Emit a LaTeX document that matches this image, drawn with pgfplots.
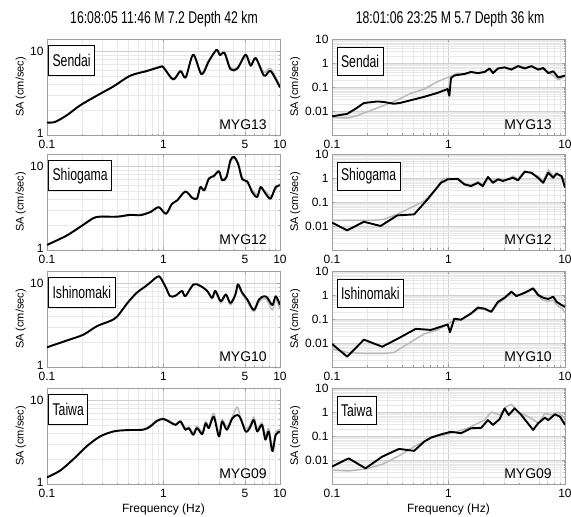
\documentclass[border=0pt]{standalone}
\usepackage{pgfplots}
\pgfplotsset{compat=1.18}
\usepackage{fontspec}
\setmainfont{Liberation Sans}
\newfontfamily\narrowfont[FakeStretch=0.72]{Liberation Sans}
\pgfplotsset{every axis/.append style={
  scale only axis, width=233pt, height=96pt,
  xmin=0.1, xmax=10, anchor=north west,
  axis line style={gray!75, line width=0.6pt},
  grid=both,
  major grid style={gray!38, line width=0.4pt},
  minor grid style={gray!18, line width=0.3pt},
  tick style={gray!75}, major tick length=3pt, minor tick length=1.5pt,
  tick align=inside,
  tick label style={font=\fontsize{12}{12}\selectfont},
  xticklabel style={yshift=-1.5pt},
  minor xtick={0.2,0.3,0.4,0.5,0.6,0.7,0.8,0.9,2,3,4,6,7,8,9},
  ylabel={SA (cm/sec)},
  y label style={anchor=center, font=\fontsize{11}{11}\selectfont},
  x label style={font=\fontsize{12}{12}\selectfont, yshift=1pt},
 }}
\tikzset{
 blk/.style={black, line width=1.9pt, line join=round},
 gry/.style={gray!55, line width=1.5pt, line join=round},
}
\newcommand{\station}[1]{\node[draw=black, line width=0.8pt, fill=white, anchor=north west, inner xsep=4pt, minimum height=30pt, font=\narrowfont\fontsize{17}{17}\selectfont] at (axis description cs:0.005,0.935) {#1};}
\newcommand{\stationR}[1]{\node[draw=black, line width=0.8pt, fill=white, anchor=north west, inner xsep=4pt, minimum height=28pt, font=\narrowfont\fontsize{17}{17}\selectfont] at (axis description cs:0.02,0.92) {#1};}
\newcommand{\code}[1]{\node[anchor=south east, font=\fontsize{14}{14}\selectfont, inner sep=0pt] at (axis description cs:0.944,0.055) {#1};}
\begin{document}
\begin{tikzpicture}
\path[use as bounding box] (0pt,0pt) rectangle (571pt,517pt);
\node[font=\narrowfont\fontsize{17}{17}\selectfont] at (164pt,498pt) {16:08:05 11:46 M 7.2 Depth 42 km};
\node[font=\narrowfont\fontsize{17}{17}\selectfont] at (450pt,498pt) {18:01:06 23:25 M 5.7 Depth 36 km};

% ---------- Row 1 left: Sendai
\begin{loglogaxis}[at={(47pt,478pt)},
  xtick={0.1,1,10}, xticklabels={0.1,1,10},
  extra x ticks={5}, extra x tick labels={5}, extra x tick style={grid=major},
  ymin=1, ymax=14, ytick={1,10}, yticklabels={\raisebox{3pt}{1},10},
  minor ytick={2,3,4,5,6,7,8,9},
  y label style={at={(axis description cs:-0.112,0.5)}}]
\addplot[gry, smooth, tension=0.5] coordinates {(0.1,1.42)(0.117,1.44)(0.148,1.74)(0.192,2.28)(0.268,2.98)(0.372,3.85)(0.518,5.15)(0.72,5.9)(0.94,6.6)(1.0,6.5)(1.21,4.7)(1.40,5.9)(1.55,4.9)(1.80,9.0)(2.12,5.5)(2.45,7.8)(2.85,10.0)(3.05,9.2)(3.34,9.8)(3.76,6.4)(4.3,6.4)(5.07,8.6)(5.6,7.2)(6.2,8.0)(7.3,5.6)(8.3,6.2)(10,3.9)};
\addplot[blk, smooth, tension=0.5] coordinates {(0.1,1.41)(0.117,1.43)(0.148,1.72)(0.192,2.25)(0.268,2.95)(0.372,3.8)(0.518,5.1)(0.72,5.8)(0.94,6.5)(1.0,6.4)(1.21,4.6)(1.40,5.8)(1.55,4.85)(1.80,9.1)(2.12,5.3)(2.45,7.6)(2.85,10.4)(3.05,9.0)(3.34,9.5)(3.76,6.1)(4.3,6.2)(5.07,9.1)(5.6,6.7)(6.2,8.3)(7.3,5.1)(8.3,5.8)(10,3.7)};
\station{Sendai}
\code{MYG13}
\end{loglogaxis}

% ---------- Row 1 right: Sendai
\begin{loglogaxis}[at={(332pt,478pt)},
  xtick={0.1,1,10}, xticklabels={0.1,1,10},
  ymin=0.001, ymax=10, ytick={0.001,0.01,0.1,1,10}, yticklabels={,0.01,0.1,1,10},
  minor ytick={0.002,0.003,0.004,0.005,0.006,0.007,0.008,0.009,0.02,0.03,0.04,0.05,0.06,0.07,0.08,0.09,0.2,0.3,0.4,0.5,0.6,0.7,0.8,0.9,2,3,4,5,6,7,8,9},
  y label style={at={(axis description cs:-0.158,0.5)}}]
\addplot[gry] coordinates {(0.1,0.0055)(0.135,0.0051)(0.164,0.0064)(0.214,0.0105)(0.279,0.017)(0.36,0.028)(0.474,0.054)(0.618,0.082)(0.806,0.168)(0.984,0.25)(1.2,0.38)(1.37,0.33)(1.56,0.45)(1.79,0.36)(2.04,0.45)(2.25,0.55)(2.41,0.42)(2.66,0.62)(3.03,0.6)(3.47,0.6)(3.95,0.8)(4.51,0.65)(5.15,0.7)(5.89,0.6)(6.5,0.55)(7.18,0.42)(7.93,0.3)(8.76,0.2)(10,0.28)};
\addplot[blk] coordinates {(0.1,0.006)(0.135,0.0076)(0.159,0.0123)(0.188,0.0215)(0.245,0.025)(0.279,0.0237)(0.341,0.02)(0.389,0.022)(0.474,0.028)(0.618,0.039)(0.806,0.057)(0.984,0.082)(1.017,0.043)(1.05,0.234)(1.12,0.30)(1.37,0.35)(1.56,0.42)(1.79,0.38)(2.04,0.42)(2.25,0.59)(2.41,0.38)(2.66,0.59)(3.03,0.66)(3.47,0.53)(3.95,0.74)(4.51,0.59)(5.15,0.74)(5.89,0.53)(6.5,0.62)(7.18,0.38)(7.93,0.45)(8.76,0.25)(10,0.30)};
\stationR{Sendai}
\code{MYG13}
\end{loglogaxis}

% ---------- Row 2 left: Shiogama
\begin{loglogaxis}[at={(47pt,363pt)},
  xtick={0.1,1,10}, xticklabels={0.1,1,10},
  extra x ticks={5}, extra x tick labels={5}, extra x tick style={grid=major},
  ymin=1, ymax=14, ytick={1,10}, yticklabels={\raisebox{3pt}{1},10},
  minor ytick={2,3,4,5,6,7,8,9},
  y label style={at={(axis description cs:-0.112,0.5)}}]
\addplot[gry, smooth, tension=0.5] coordinates {(0.1,1.15)(0.148,1.5)(0.205,2.02)(0.25,2.42)(0.286,2.52)(0.4,2.48)(0.52,2.6)(0.63,2.65)(0.77,2.86)(0.91,3.2)(1.05,2.75)(1.18,3.5)(1.31,3.95)(1.54,4.9)(1.76,4.3)(1.94,4.2)(2.07,5.5)(2.24,5.3)(2.45,7.3)(2.7,7.4)(2.99,8.9)(3.19,7.0)(3.47,7.7)(3.76,11.3)(4.02,12.5)(4.36,11.2)(4.74,7.4)(5.24,6.3)(5.78,5.2)(6.38,4.6)(6.82,5.3)(7.53,5.0)(8.3,4.4)(9.18,5.3)(10,6.2)};
\addplot[blk, smooth, tension=0.5] coordinates {(0.1,1.15)(0.148,1.49)(0.205,2.0)(0.25,2.4)(0.286,2.5)(0.4,2.5)(0.52,2.63)(0.63,2.6)(0.77,2.83)(0.91,3.25)(1.05,2.7)(1.18,3.55)(1.31,3.9)(1.54,5.0)(1.76,4.2)(1.94,4.1)(2.07,5.65)(2.24,5.15)(2.45,7.1)(2.7,7.65)(2.99,8.7)(3.19,6.8)(3.47,7.4)(3.76,11.8)(4.02,12.9)(4.36,10.8)(4.74,7.0)(5.24,6.6)(5.78,4.9)(6.38,4.3)(6.82,5.65)(7.53,4.7)(8.3,4.1)(9.18,5.65)(10,5.9)};
\station{Shiogama}
\code{MYG12}
\end{loglogaxis}

% ---------- Row 2 right: Shiogama
\begin{loglogaxis}[at={(332pt,363pt)},
  xtick={0.1,1,10}, xticklabels={0.1,1,10},
  ymin=0.001, ymax=10, ytick={0.001,0.01,0.1,1,10}, yticklabels={,0.01,0.1,1,10},
  minor ytick={0.002,0.003,0.004,0.005,0.006,0.007,0.008,0.009,0.02,0.03,0.04,0.05,0.06,0.07,0.08,0.09,0.2,0.3,0.4,0.5,0.6,0.7,0.8,0.9,2,3,4,5,6,7,8,9},
  y label style={at={(axis description cs:-0.158,0.5)}}]
\addplot[gry] coordinates {(0.1,0.017)(0.145,0.017)(0.215,0.017)(0.279,0.019)(0.364,0.031)(0.474,0.058)(0.618,0.11)(0.755,0.29)(0.89,0.88)(0.984,1.0)(1.2,0.85)(1.37,0.6)(1.56,0.5)(1.79,0.7)(1.97,0.55)(2.18,1.0)(2.41,0.75)(2.66,0.95)(2.93,0.85)(3.24,0.9)(3.58,1.2)(3.95,0.9)(4.51,2.0)(5.15,1.5)(5.89,1.2)(6.5,0.75)(7.18,2.2)(7.93,1.2)(8.47,1.7)(9.36,1.0)(10,0.5)};
\addplot[blk] coordinates {(0.1,0.0138)(0.135,0.0066)(0.188,0.015)(0.261,0.01)(0.364,0.0277)(0.507,0.0305)(0.661,0.129)(0.861,0.63)(0.984,0.88)(1.2,0.93)(1.37,0.54)(1.56,0.46)(1.79,0.63)(1.97,0.46)(2.18,1.1)(2.41,0.63)(2.66,0.88)(2.93,0.75)(3.24,0.88)(3.58,1.03)(3.95,0.80)(4.51,1.82)(5.15,1.66)(5.89,1.0)(6.5,0.63)(7.18,1.66)(7.93,1.03)(8.47,1.5)(9.36,1.2)(10,0.4)};
\stationR{Shiogama}
\code{MYG12}
\end{loglogaxis}

% ---------- Row 3 left: Ishinomaki
\begin{loglogaxis}[at={(47pt,246pt)},
  xtick={0.1,1,10}, xticklabels={0.1,1,10},
  extra x ticks={5}, extra x tick labels={5}, extra x tick style={grid=major},
  ymin=1, ymax=14, ytick={1,10}, yticklabels={\raisebox{3pt}{1},10},
  minor ytick={2,3,4,5,6,7,8,9},
  y label style={at={(axis description cs:-0.112,0.5)}}]
\addplot[gry, smooth, tension=0.5] coordinates {(0.1,1.72)(0.148,2.07)(0.205,2.43)(0.268,3.07)(0.348,3.54)(0.4,4.0)(0.49,5.8)(0.59,7.7)(0.72,9.45)(0.88,11.9)(0.94,11.7)(1.05,8.85)(1.14,7.0)(1.27,7.2)(1.44,8.0)(1.54,7.1)(1.81,9.6)(2.07,9.2)(2.37,8.0)(2.61,6.5)(2.79,7.8)(3.1,5.8)(3.43,7.1)(3.76,5.5)(4.14,7.0)(4.36,9.2)(4.74,7.4)(5.24,6.0)(5.96,4.6)(6.6,6.0)(7.3,6.6)(7.8,6.2)(8.6,4.8)(9.2,6.4)(10,4.9)};
\addplot[blk, smooth, tension=0.5] coordinates {(0.1,1.72)(0.148,2.07)(0.205,2.43)(0.268,3.07)(0.348,3.54)(0.4,4.0)(0.49,5.8)(0.59,7.7)(0.72,9.45)(0.88,11.9)(0.94,11.7)(1.05,8.85)(1.14,7.0)(1.27,7.1)(1.44,8.1)(1.54,7.0)(1.81,9.7)(2.07,9.3)(2.37,8.1)(2.61,6.7)(2.79,8.1)(3.1,6.1)(3.43,7.35)(3.76,5.8)(4.14,7.35)(4.36,9.7)(4.74,7.7)(5.24,6.4)(5.96,4.8)(6.6,6.4)(7.3,7.0)(7.8,6.7)(8.6,5.5)(9.2,7.0)(10,5.5)};
\station{Ishinomaki}
\code{MYG10}
\end{loglogaxis}

% ---------- Row 3 right: Ishinomaki
\begin{loglogaxis}[at={(332pt,246pt)},
  xtick={0.1,1,10}, xticklabels={0.1,1,10},
  ymin=0.001, ymax=10, ytick={0.001,0.01,0.1,1,10}, yticklabels={,0.01,0.1,1,10},
  minor ytick={0.002,0.003,0.004,0.005,0.006,0.007,0.008,0.009,0.02,0.03,0.04,0.05,0.06,0.07,0.08,0.09,0.2,0.3,0.4,0.5,0.6,0.7,0.8,0.9,2,3,4,5,6,7,8,9},
  y label style={at={(axis description cs:-0.158,0.5)}}]
\addplot[gry] coordinates {(0.1,0.0056)(0.135,0.004)(0.188,0.0037)(0.279,0.0037)(0.34,0.004)(0.444,0.009)(0.618,0.024)(0.806,0.035)(1.05,0.075)(1.28,0.09)(1.56,0.16)(1.79,0.26)(2.04,0.25)(2.33,0.19)(2.66,0.45)(3.03,0.7)(3.47,1.2)(3.83,0.95)(4.51,1.15)(5.33,1.7)(5.89,0.9)(6.5,0.6)(7.18,0.55)(7.93,0.6)(8.47,0.4)(9.36,0.28)(10,0.18)};
\addplot[blk] coordinates {(0.1,0.0091)(0.135,0.0027)(0.188,0.0138)(0.27,0.007)(0.364,0.0148)(0.524,0.039)(0.706,0.035)(0.984,0.059)(1.03,0.028)(1.12,0.103)(1.28,0.094)(1.56,0.17)(1.79,0.30)(2.04,0.27)(2.33,0.2)(2.66,0.52)(3.03,0.77)(3.47,1.38)(3.83,0.9)(4.51,1.25)(5.33,1.9)(5.89,1.0)(6.5,0.77)(7.18,0.68)(7.93,0.85)(8.47,0.52)(9.36,0.38)(10,0.32)};
\stationR{Ishinomaki}
\code{MYG10}
\end{loglogaxis}

% ---------- Row 4 left: Taiwa
\begin{loglogaxis}[at={(47pt,129pt)},
  xtick={0.1,1,10}, xticklabels={0.1,1,10},
  extra x ticks={5}, extra x tick labels={5}, extra x tick style={grid=major},
  ymin=1, ymax=14, ytick={1,10}, yticklabels={\raisebox{3pt}{1},10},
  minor ytick={2,3,4,5,6,7,8,9},
  y label style={at={(axis description cs:-0.112,0.5)}},
  xlabel={Frequency (Hz)}]
\addplot[gry, smooth, tension=0.5] coordinates {(0.1,1.2)(0.129,1.44)(0.168,1.97)(0.22,2.83)(0.286,3.7)(0.372,4.24)(0.485,4.4)(0.67,4.5)(0.77,5.0)(0.88,5.8)(1.0,6.1)(1.14,5.6)(1.27,5.2)(1.40,5.7)(1.54,4.6)(1.65,4.8)(1.80,4.1)(1.94,4.9)(2.15,4.2)(2.3,5.6)(2.45,4.9)(2.7,7.0)(2.99,4.0)(3.19,5.9)(3.5,4.8)(3.9,6.4)(4.3,8.3)(4.58,6.2)(5.07,4.6)(5.5,5.0)(5.96,6.3)(6.38,4.6)(7.0,5.4)(7.5,3.8)(8.0,4.6)(8.6,2.8)(9.2,4.2)(10,4.5)};
\addplot[blk, smooth, tension=0.5] coordinates {(0.1,1.2)(0.129,1.44)(0.168,1.97)(0.22,2.83)(0.286,3.7)(0.372,4.24)(0.485,4.4)(0.67,4.45)(0.77,4.86)(0.88,5.66)(1.0,5.97)(1.14,5.46)(1.27,5.08)(1.40,5.56)(1.54,4.44)(1.65,4.65)(1.80,3.87)(1.94,4.65)(2.15,3.94)(2.3,5.3)(2.45,4.65)(2.7,6.37)(2.99,3.7)(3.19,5.56)(3.5,4.44)(3.9,6.09)(4.3,6.66)(4.58,6.09)(5.07,4.24)(5.5,4.65)(5.96,5.8)(6.38,4.24)(7.0,5.08)(7.5,3.38)(8.0,4.24)(8.6,2.47)(9.2,3.87)(10,4.24)};
\station{Taiwa}
\code{MYG09}
\end{loglogaxis}

% ---------- Row 4 right: Taiwa
\begin{loglogaxis}[at={(332pt,129pt)},
  xtick={0.1,1,10}, xticklabels={0.1,1,10},
  ymin=0.001, ymax=10, ytick={0.001,0.01,0.1,1,10}, yticklabels={,0.01,0.1,1,10},
  minor ytick={0.002,0.003,0.004,0.005,0.006,0.007,0.008,0.009,0.02,0.03,0.04,0.05,0.06,0.07,0.08,0.09,0.2,0.3,0.4,0.5,0.6,0.7,0.8,0.9,2,3,4,5,6,7,8,9},
  y label style={at={(axis description cs:-0.158,0.5)}},
  xlabel={Frequency (Hz)}]
\addplot[gry] coordinates {(0.1,0.0038)(0.139,0.0035)(0.194,0.0042)(0.27,0.0066)(0.376,0.015)(0.507,0.036)(0.706,0.085)(1.05,0.13)(1.46,0.21)(2.04,0.46)(2.33,1.0)(2.75,0.75)(3.14,1.66)(3.47,2.1)(3.95,1.0)(4.51,0.75)(5.15,0.54)(5.89,0.34)(6.72,0.87)(7.67,0.75)(8.76,1.0)(10,0.54)};
\addplot[blk] coordinates {(0.1,0.0053)(0.139,0.0117)(0.194,0.0045)(0.27,0.0138)(0.376,0.029)(0.507,0.024)(0.618,0.058)(0.706,0.085)(0.861,0.117)(1.05,0.15)(1.28,0.13)(1.56,0.21)(1.91,0.22)(2.18,0.46)(2.41,0.29)(2.75,0.51)(3.03,1.42)(3.29,0.75)(3.7,1.42)(4.22,0.75)(4.67,0.40)(5.33,0.18)(5.89,0.34)(6.72,0.58)(7.18,0.46)(8.2,0.8)(9.06,0.64)(10,0.29)};
\stationR{Taiwa}
\code{MYG09}
\end{loglogaxis}
\end{tikzpicture}
\end{document}
